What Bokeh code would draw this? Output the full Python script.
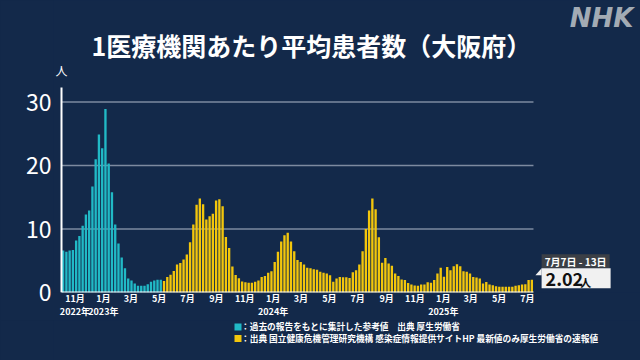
import pandas as pd
from bokeh.plotting import figure
from bokeh.layouts import column
from bokeh.models import Range1d, FixedTicker, LinearAxis, GlobalInlineStyleSheet
from bokeh.core.properties import value
from bokeh.embed import file_html
from bokeh.resources import INLINE

# ---------------- data ----------------
start_week = "2022-10-03"
past_values = [6.6, 6.4, 6.6, 6.7, 8.2, 8.9, 10.5, 12.3, 12.9, 16.7, 21.0, 24.9, 22.7, 28.9,
               20.3, 15.8, 10.7, 7.7, 5.5, 3.8, 2.2, 1.9, 1.4, 1.05, 1.05, 1.05, 1.3, 1.7,
               1.9, 2.0, 2.0]
niid_values = [1.8, 2.45, 2.8, 3.4, 4.4, 4.65, 5.2, 6.0, 7.9, 10.7, 13.8, 14.8, 13.9, 11.5,
               12.0, 12.4, 14.5, 14.7, 13.6, 8.75, 7.0, 4.1, 2.75, 2.25, 1.75, 1.6, 1.55, 1.55,
               1.7,
               1.9, 2.45, 2.6, 3.1, 3.35, 4.8, 6.4, 8.05, 9.0, 9.4, 8.05, 6.5, 5.1, 4.8, 4.4,
               3.9, 3.8, 3.65, 3.6, 3.25, 3.1, 3.0, 2.7, 1.7, 2.2, 2.45, 2.4, 2.4, 2.3, 3.2,
               3.5, 4.4, 6.5, 10.0, 12.9, 14.8, 13.1, 8.7, 4.7, 5.45, 4.55, 4.2, 3.0, 2.6,
               2.05, 1.95, 1.5, 1.25, 1.1, 1.05, 1.25, 1.25, 1.6, 1.55, 1.95, 3.0,
               3.9, 2.5, 4.0, 3.5, 4.15, 4.45, 4.15, 3.35, 3.25, 3.0, 2.45, 2.35, 2.2, 1.4,
               1.65, 1.25, 1.15, 1.0, 0.9, 0.9, 0.9, 0.9, 0.9, 1.05, 1.15, 1.25, 1.3, 1.95,
               2.02]
month_dates = ["2022-11-01", "2023-01-01", "2023-03-01", "2023-05-01", "2023-07-01",
               "2023-09-01", "2023-11-01", "2024-01-01", "2024-03-01", "2024-05-01",
               "2024-07-01", "2024-09-01", "2024-11-01", "2025-01-01", "2025-03-01",
               "2025-05-01", "2025-07-01"]
month_labels = ["11月", "1月", "3月", "5月", "7月", "9月", "11月", "1月", "3月", "5月",
                "7月", "9月", "11月", "1月", "3月", "5月", "7月"]
year_dates = ["2022-11-01", "2023-01-01", "2024-01-01", "2025-01-01"]
year_labels = ["2022年", "2023年", "2024年", "2025年"]
y_ticks = [0, 10, 20, 30]
title_text = "1医療機関あたり平均患者数（大阪府）"
legend_labels = ["：過去の報告をもとに集計した参考値　出典 厚生労働省",
                 "：出典 国立健康危機管理研究機構 感染症情報提供サイトHP 最新値のみ厚生労働省の速報値"]
latest_period = "7月7日 - 13日"
latest_value = "2.02"
unit = "人"
logo = "NHK"

# ---------------- style / layout ----------------
BG = "#13294a"
CYAN = "#21b9c6"
YELLOW = "#f3c60c"
FONT = "Noto Sans CJK JP"
PX = 3.255          # pixels per week
PY = 6.35           # pixels per patient
W, H_MAIN, H_LEG = 640, 320, 40
LEFT, BOTTOM = 53, 28

n_past = len(past_values)
n_all = n_past + len(niid_values)
x_past = [i + 0.5 for i in range(n_past)]
x_niid = [n_past + i + 0.5 for i in range(len(niid_values))]

t0 = pd.Timestamp(start_week)
def week_pos(d):
    return round((pd.Timestamp(d) - t0).days / 7.0, 2)
month_pos = [week_pos(d) for d in month_dates]
year_pos = [week_pos(d) for d in year_dates]

x0 = -8 / PX
p = figure(width=W, height=H_MAIN,
           x_range=Range1d(x0, x0 + (W - LEFT) / PX),
           y_range=Range1d(0, (H_MAIN - BOTTOM) / PY),
           output_backend="svg", toolbar_location=None,
           background_fill_color=BG, border_fill_color=BG, outline_line_color=None,
           min_border_left=LEFT, min_border_right=0, min_border_top=0,
           min_border_bottom=BOTTOM)
p.xgrid.visible = False
p.ygrid.visible = False

# gridlines
p.segment(x0=[0] * 3, x1=[n_all] * 3, y0=y_ticks[1:], y1=y_ticks[1:],
          line_color="#7d8aa0", line_width=1.5)

r_past = p.vbar(x=x_past, top=past_values, width=0.72, fill_color=CYAN, line_color=None)
r_niid = p.vbar(x=x_niid, top=niid_values, width=0.72, fill_color=YELLOW, line_color=None)

# axis lines
y_top = y_ticks[-1] + 2.3
p.segment(x0=[0], x1=[n_all], y0=[0], y1=[0], line_color="white", line_width=2)
p.segment(x0=[0], x1=[0], y0=[0], y1=[y_top], line_color="white", line_width=2)

# y axis
p.yaxis.ticker = FixedTicker(ticks=y_ticks)
p.yaxis.axis_line_color = None
p.yaxis.major_tick_line_color = None
p.yaxis.minor_tick_line_color = None
p.yaxis.major_tick_out = 0
p.yaxis.major_label_text_color = "white"
p.yaxis.major_label_text_font = FONT
p.yaxis.major_label_text_font_size = "23px"
p.yaxis.major_label_standoff = 2

# x axes: months and years
def style_xaxis(ax, standoff):
    ax.axis_line_color = None
    ax.major_tick_line_color = None
    ax.minor_tick_line_color = None
    ax.major_tick_out = 0
    ax.minor_tick_out = 0
    ax.major_label_text_color = "white"
    ax.major_label_text_font = FONT
    ax.major_label_text_font_size = "9px"
    ax.major_label_text_font_style = "bold"
    ax.major_label_standoff = standoff

p.xaxis.ticker = FixedTicker(ticks=month_pos)
p.xaxis.major_label_overrides = dict(zip(month_pos, month_labels))
style_xaxis(p.xaxis[0], -1)
year_axis = LinearAxis(ticker=FixedTicker(ticks=year_pos),
                       major_label_overrides=dict(zip(year_pos, year_labels)))
style_xaxis(year_axis, -3)
p.add_layout(year_axis, "below")

# header texts
p.text(x=[76.8], y=[38.9], text=[title_text], text_color="white", text_font=value(FONT),
       text_font_size="25px", text_font_style="bold", text_align="center",
       text_baseline="middle")
p.text(x=[175.7], y=[43.3], text=[logo], text_color="#a3abb4",
       text_font=value("DejaVu Sans"), text_font_size="26px",
       text_font_style="bold italic", text_align="right", text_baseline="middle")
p.text(x=[0], y=[35.0], text=[unit], text_color="white", text_font=value(FONT),
       text_font_size="12px", text_align="center", text_baseline="middle")

# callout for the latest value
lx = n_all + 2.5
p.rect(x=[lx + 10.45], y=[4.93], width=20.9, height=2.2, fill_color="#3b3f46", line_color=None)
p.rect(x=[lx + 10.6], y=[2.25], width=21.2, height=3.15, fill_color="#f1f1f1", line_color=None)
p.patch(x=[n_all + 0.6, lx, lx], y=[2.7, 3.8, 2.7], fill_color="#f1f1f1", line_color=None)
p.text(x=[lx + 10.45], y=[4.93], text=[latest_period], text_color="white",
       text_font=value(FONT), text_font_size="10px", text_font_style="bold",
       text_align="center", text_baseline="middle")
p.text(x=[lx + 1.2], y=[2.1], text=[latest_value], text_color="#111111",
       text_font=value(FONT), text_font_size="18px", text_font_style="bold",
       text_align="left", text_baseline="middle")
p.text(x=[lx + 11.9], y=[1.6], text=[unit], text_color="#111111",
       text_font=value(FONT), text_font_size="11px", text_font_style="bold",
       text_align="left", text_baseline="middle")

# legend strip: its frame is aligned with the main frame, data x == page pixel x
pl = figure(width=W, height=H_LEG, x_range=Range1d(LEFT, W), y_range=Range1d(0, H_LEG),
            output_backend="svg", toolbar_location=None, x_axis_type=None, y_axis_type=None,
            background_fill_color=BG, border_fill_color=BG, outline_line_color=None,
            min_border_left=LEFT, min_border_right=0, min_border_top=0, min_border_bottom=0)
pl.xgrid.visible = False
pl.ygrid.visible = False
leg_y = [H_LEG - 6.4, H_LEG - 18.0]
pl.rect(x=[237.5, 237.5], y=leg_y, width=7, height=7, fill_color=[CYAN, YELLOW],
        line_color=None)
pl.text(x=[240.5, 240.5], y=leg_y, text=legend_labels, text_color="white",
        text_font=value(FONT), text_font_size="8.7px", text_font_style="bold",
        text_align="left", text_baseline="middle")

page = column(p, pl, spacing=0)
page.stylesheets = [GlobalInlineStyleSheet(css=f"body {{ background: {BG}; }}")]
open("out.html", "w").write(file_html(page, INLINE))
